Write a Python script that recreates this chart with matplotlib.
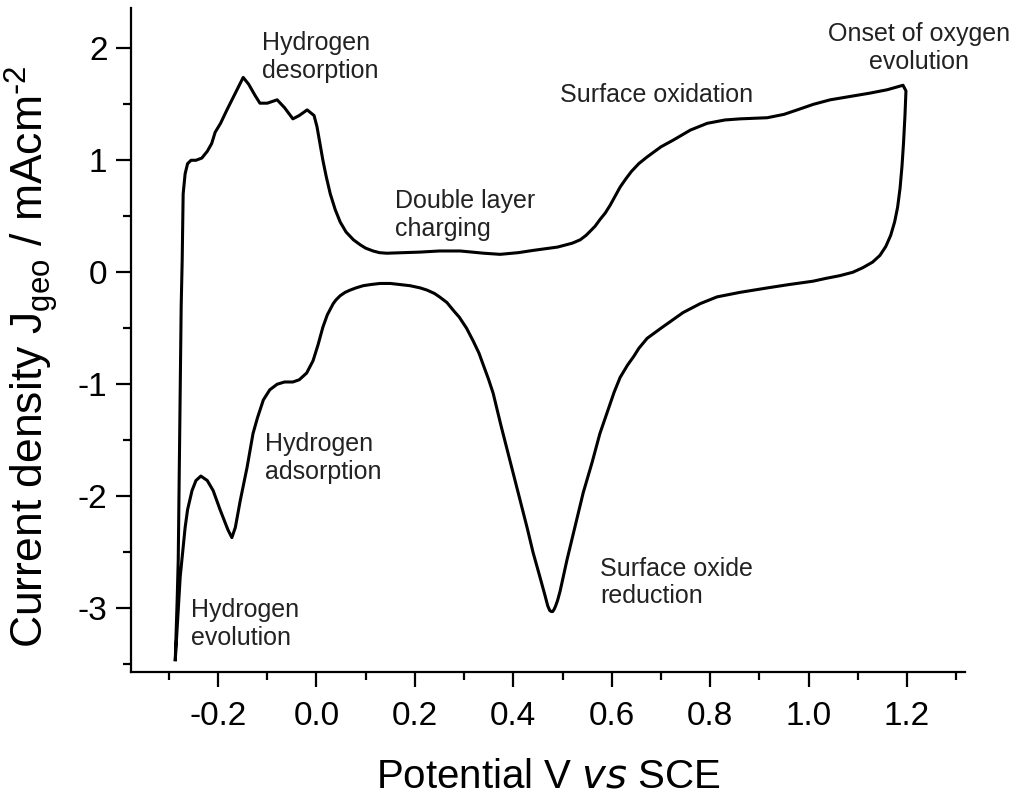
import matplotlib
matplotlib.use("Agg")
from matplotlib import pyplot as plt
from matplotlib.ticker import MultipleLocator
import numpy as np

plt.rcParams['font.family'] = ['Liberation Sans', 'DejaVu Sans']
plt.rcParams['mathtext.default'] = 'regular'
plt.rcParams['axes.unicode_minus'] = False

# anodic sweep (upper branch), from the cathodic vertex to the anodic vertex
v_up = [-0.287, -0.283, -0.281, -0.279, -0.277, -0.275, -0.273, -0.271, -0.267, -0.262,
        -0.255, -0.245, -0.233, -0.222, -0.213, -0.206, -0.195, -0.182, -0.165, -0.149,
        -0.138, -0.125, -0.115, -0.100, -0.080, -0.065, -0.048, -0.035, -0.019, -0.005,
        0.001, 0.007, 0.013, 0.020, 0.028, 0.038, 0.048, 0.060, 0.075, 0.089,
        0.100, 0.115, 0.128, 0.143, 0.175, 0.210, 0.250, 0.292, 0.340, 0.373,
        0.410, 0.440, 0.490, 0.520, 0.536, 0.548, 0.557, 0.566, 0.576, 0.587,
        0.597, 0.607, 0.617, 0.628, 0.640, 0.655, 0.672, 0.700, 0.725, 0.760,
        0.794, 0.830, 0.861, 0.890, 0.916, 0.950, 0.977, 1.010, 1.044, 1.085,
        1.125, 1.160, 1.192]
j_up = [-3.46, -2.90, -2.57, -1.80, -1.08, -0.30, 0.10, 0.70, 0.88, 0.97,
        1.00, 1.00, 1.02, 1.08, 1.15, 1.25, 1.33, 1.45, 1.60, 1.74,
        1.68, 1.58, 1.51, 1.51, 1.54, 1.47, 1.37, 1.40, 1.45, 1.40,
        1.30, 1.15, 1.00, 0.85, 0.70, 0.56, 0.45, 0.36, 0.29, 0.245,
        0.215, 0.19, 0.175, 0.17, 0.175, 0.18, 0.19, 0.19, 0.17, 0.16,
        0.175, 0.195, 0.225, 0.26, 0.29, 0.33, 0.37, 0.41, 0.47, 0.53,
        0.60, 0.68, 0.76, 0.83, 0.90, 0.97, 1.03, 1.12, 1.18, 1.27,
        1.33, 1.36, 1.37, 1.375, 1.38, 1.41, 1.45, 1.50, 1.54, 1.57,
        1.60, 1.63, 1.67]

# cathodic sweep (lower branch), back to the cathodic vertex
v_down = [1.198, 1.196, 1.193, 1.190, 1.186, 1.181, 1.175, 1.167, 1.157, 1.145,
          1.130, 1.110, 1.090, 1.064, 1.035, 1.009, 0.960, 0.916, 0.860, 0.814,
          0.780, 0.745, 0.700, 0.672, 0.655, 0.645, 0.632, 0.617, 0.605, 0.590,
          0.576, 0.560, 0.542, 0.525, 0.509, 0.495, 0.490, 0.486, 0.483, 0.480,
          0.477, 0.474, 0.470, 0.464, 0.454, 0.440, 0.428, 0.410, 0.393, 0.375,
          0.359, 0.350, 0.340, 0.330, 0.318, 0.305, 0.290, 0.280, 0.265, 0.250,
          0.240, 0.225, 0.211, 0.190, 0.170, 0.150, 0.129, 0.110, 0.095, 0.080,
          0.068, 0.058, 0.048, 0.040, 0.034, 0.028, 0.022, 0.013, 0.003, -0.007,
          -0.020, -0.035, -0.048, -0.065, -0.080, -0.095, -0.108, -0.120, -0.129, -0.141,
          -0.155, -0.165, -0.172, -0.180, -0.196, -0.210, -0.222, -0.235, -0.245, -0.253,
          -0.262, -0.267, -0.272, -0.277, -0.283, -0.287]
j_down = [1.62, 1.40, 1.15, 0.95, 0.75, 0.58, 0.45, 0.33, 0.23, 0.15,
          0.09, 0.04, 0.00, -0.03, -0.055, -0.08, -0.11, -0.14, -0.18, -0.22,
          -0.28, -0.36, -0.50, -0.59, -0.68, -0.75, -0.83, -0.94, -1.07, -1.26,
          -1.44, -1.70, -1.97, -2.28, -2.57, -2.85, -2.93, -2.98, -3.01, -3.03,
          -3.03, -3.02, -2.98, -2.88, -2.72, -2.50, -2.28, -1.97, -1.68, -1.37,
          -1.08, -0.96, -0.84, -0.72, -0.61, -0.50, -0.40, -0.35, -0.27, -0.22,
          -0.19, -0.16, -0.14, -0.12, -0.11, -0.10, -0.10, -0.11, -0.12, -0.14,
          -0.16, -0.18, -0.21, -0.245, -0.28, -0.33, -0.38, -0.49, -0.65, -0.79,
          -0.90, -0.96, -0.98, -0.98, -1.00, -1.05, -1.14, -1.30, -1.44, -1.74,
          -2.04, -2.28, -2.37, -2.30, -2.12, -1.95, -1.86, -1.82, -1.86, -1.95,
          -2.12, -2.28, -2.50, -2.72, -3.17, -3.46]

labels = ["Hydrogen\ndesorption", "Onset of oxygen\nevolution", "Surface oxidation",
          "Double layer\ncharging", "Hydrogen\nadsorption", "Surface oxide\nreduction",
          "Hydrogen\nevolution"]
label_v = [-0.111, 1.225, 0.495, 0.160, -0.104, 0.576, -0.255]
label_j = [1.92, 2.00, 1.58, 0.51, -1.66, -2.77, -3.14]
label_ha = ['left', 'center', 'left', 'left', 'left', 'left', 'left']

fig = plt.figure(figsize=(10.16, 8), dpi=100)
ax = fig.add_axes([131/1016, 128/800, 834/1016, 664/800])

v = np.array(v_up + v_down)
j = np.array(j_up + j_down)
ax.plot(v, j, color='black', lw=2.2, solid_joinstyle='round')

for s, x, y, ha in zip(labels, label_v, label_j, label_ha):
    ax.text(x, y, s, ha=ha, va='center', fontsize=18, color='#222222', linespacing=1.2)

ax.set_xlim(-0.377, 1.318)
ax.set_ylim(-3.57, 2.36)
ax.xaxis.set_major_locator(MultipleLocator(0.2))
ax.xaxis.set_minor_locator(MultipleLocator(0.1))
ax.yaxis.set_major_locator(MultipleLocator(1))
ax.yaxis.set_minor_locator(MultipleLocator(0.5))
ax.xaxis.set_major_formatter(plt.FuncFormatter(lambda x, p: '%.1f' % x))

for side in ['top', 'right']:
    ax.spines[side].set_visible(False)
for side in ['left', 'bottom']:
    ax.spines[side].set_linewidth(1.6)

ax.tick_params(which='major', direction='out', length=11, width=1.6, labelsize=24)
ax.tick_params(axis='x', which='major', pad=10)
ax.tick_params(axis='y', which='major', pad=6)
ax.tick_params(which='minor', direction='out', length=6, width=1.6)

ax.set_xlabel(r'Potential V $\mathit{vs}$ SCE', fontsize=29, labelpad=18)
ax.set_ylabel(r'Current density J$_{geo}$ / mAcm$^{\text{-}2}$', fontsize=32, labelpad=6)
ax.yaxis.set_label_coords(-0.085, 0.475)

fig.savefig('out.png', dpi=100)
